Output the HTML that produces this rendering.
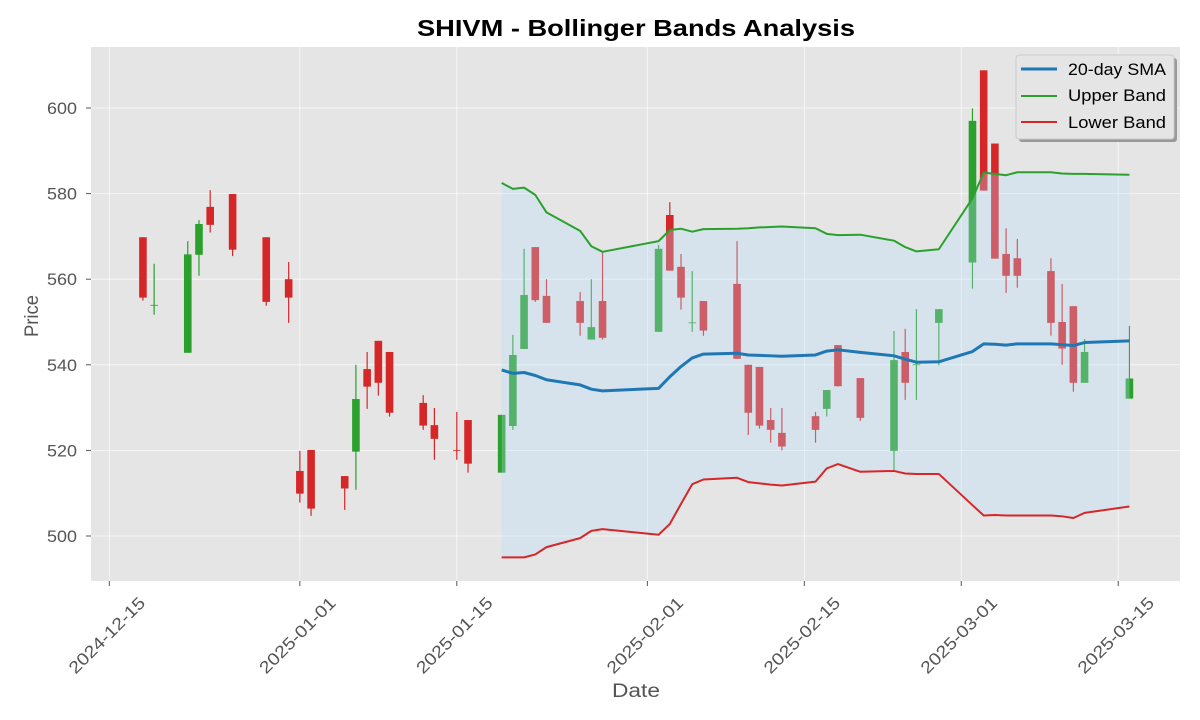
<!DOCTYPE html>
<html><head><meta charset="utf-8"><style>
body{margin:0;background:#fff;}
svg{display:block;font-family:"Liberation Sans","DejaVu Sans",sans-serif;}
</style></head><body>
<svg id="chart" width="1200" height="720" xmlns="http://www.w3.org/2000/svg">
<rect x="0" y="0" width="1200" height="720" fill="#fff"/>
<rect x="91" y="47" width="1089" height="534" fill="#e5e5e5"/>
<g id="grid"></g>
<g id="candles"></g>
<g id="bands"></g>
<g id="axes"></g>
<text x="636" y="36" text-anchor="middle" font-size="23" font-weight="bold" fill="#000" textLength="438" lengthAdjust="spacingAndGlyphs">SHIVM - Bollinger Bands Analysis</text>
<text x="0" y="0" transform="translate(38,316) rotate(-90)" text-anchor="middle" font-size="19" fill="#555" textLength="42" lengthAdjust="spacingAndGlyphs">Price</text>
<text x="636" y="697" text-anchor="middle" font-size="19" fill="#555" textLength="48" lengthAdjust="spacingAndGlyphs">Date</text>
<g>
<rect x="1019" y="58" width="158" height="84" rx="3" fill="#999"/>
<rect x="1016" y="55" width="158" height="84" rx="3" fill="#e5e5e5" stroke="#ccc" stroke-width="1"/>
<line x1="1021" y1="69" x2="1057" y2="69" stroke="#1f77b4" stroke-width="3"/>
<text x="1068" y="75" font-size="17" fill="#000" textLength="98" lengthAdjust="spacingAndGlyphs">20-day SMA</text>
<line x1="1021" y1="96" x2="1057" y2="96" stroke="#2ca02c" stroke-width="2"/>
<text x="1068" y="101" font-size="17" fill="#000" textLength="98" lengthAdjust="spacingAndGlyphs">Upper Band</text>
<line x1="1021" y1="122" x2="1057" y2="122" stroke="#d62728" stroke-width="2"/>
<text x="1068" y="128" font-size="17" fill="#000" textLength="98" lengthAdjust="spacingAndGlyphs">Lower Band</text>
</g>
</svg>
<script>
const dates=["2024-12-18","2024-12-19","2024-12-22","2024-12-23","2024-12-24","2024-12-26","2024-12-29","2024-12-31","2025-01-01","2025-01-02","2025-01-05","2025-01-06","2025-01-07","2025-01-08","2025-01-09","2025-01-12","2025-01-13","2025-01-15","2025-01-16","2025-01-19","2025-01-20","2025-01-21","2025-01-22","2025-01-23","2025-01-26","2025-01-27","2025-01-28","2025-02-02","2025-02-03","2025-02-04","2025-02-05","2025-02-06","2025-02-09","2025-02-10","2025-02-11","2025-02-12","2025-02-13","2025-02-16","2025-02-17","2025-02-18","2025-02-20","2025-02-23","2025-02-24","2025-02-25","2025-02-27","2025-03-02","2025-03-03","2025-03-04","2025-03-05","2025-03-06","2025-03-09","2025-03-10","2025-03-11","2025-03-12","2025-03-16"];
const opens=[569.8,553.9,542.8,565.7,576.9,579.9,569.8,560.0,515.2,520.1,514.0,519.7,539.0,545.6,543.0,531.1,525.9,520.1,527.1,514.8,525.7,543.7,567.5,556.1,554.9,545.9,554.9,547.7,575.0,562.9,549.8,554.9,558.9,540.0,539.5,527.1,524.1,528.0,529.7,544.6,536.9,519.9,543.0,540.0,549.8,563.9,608.8,591.7,565.9,564.9,561.9,550.0,553.7,535.8,532.1];
const highs=[569.8,563.6,568.9,573.8,580.8,579.9,569.8,564.0,519.9,520.1,514.0,540.0,543.0,545.6,543.0,532.9,529.9,529.0,527.1,528.3,547.0,567.1,567.5,560.0,557.0,560.0,566.2,568.0,578.0,565.9,561.9,554.9,568.9,540.0,539.5,529.9,529.9,529.0,534.1,544.6,536.9,547.9,548.4,553.0,553.0,599.9,608.8,591.7,571.9,569.4,564.9,558.9,553.7,546.0,549.1];
const lows=[555.0,551.7,542.8,560.8,570.9,565.4,553.8,549.8,507.8,504.7,506.1,510.8,529.7,532.8,527.9,524.8,517.8,517.8,514.8,514.8,524.8,543.7,554.7,549.8,546.8,545.9,545.9,547.7,562.0,552.9,547.7,546.8,541.4,523.6,525.1,521.8,520.0,521.8,527.9,534.9,526.9,515.3,531.8,531.8,539.9,557.8,580.7,564.8,556.8,558.0,546.8,540.0,533.7,535.8,532.1];
const closes=[555.7,554.0,565.8,572.9,572.7,566.9,554.7,555.7,509.9,506.4,511.1,532.0,534.9,535.8,528.8,525.8,522.7,520.0,516.9,528.3,542.3,556.3,555.1,549.8,549.8,548.8,546.3,567.1,562.0,555.7,549.9,548.0,541.4,528.8,525.8,524.8,520.9,524.8,534.1,535.0,527.6,541.1,535.8,540.1,553.0,597.0,580.7,564.8,560.8,560.8,549.8,543.8,535.8,543.0,536.8];
const bandDates=dates.slice(19);
const smaValues=[538.8,538.0,538.2,537.5,536.5,535.3,534.3,533.9,534.5,537.2,539.6,541.6,542.5,542.7,542.3,542.2,542.1,542.0,542.3,543.2,543.5,542.9,542.1,541.3,540.6,540.7,543.1,544.9,544.8,544.6,544.9,544.9,544.7,544.5,545.2,545.6];
const upperValues=[582.5,581.1,581.4,579.7,575.6,571.3,567.7,566.4,568.9,571.5,571.8,571.1,571.7,571.8,571.9,572.1,572.2,572.3,571.9,570.6,570.3,570.4,569.0,567.5,566.5,567.0,578.9,584.9,584.6,584.3,585.0,585.0,584.7,584.6,584.6,584.4];
const lowerValues=[495.0,495.0,495.0,495.7,497.4,499.5,501.2,501.6,500.3,502.8,507.5,512.1,513.2,513.6,512.6,512.3,512.0,511.8,512.7,515.8,516.8,515.0,515.2,514.6,514.5,514.5,507.2,504.8,504.9,504.8,504.8,504.8,504.6,504.2,505.4,506.9];
const yTicks=[500,520,540,560,580,600];
const xTickLabels=["2024-12-15","2025-01-01","2025-01-15","2025-02-01","2025-02-15","2025-03-01","2025-03-15"];

const NS="http://www.w3.org/2000/svg";
const T0=Date.UTC(2024,11,15);
function dayOf(s){const p=s.split("-");return (Date.UTC(+p[0],+p[1]-1,+p[2])-T0)/86400000;}
function xs(s){return 109.3+dayOf(s)*11.21;}
function ys(v){return 536-(v-500)*4.28;}
function mk(tag,attrs,parent){const e=document.createElementNS(NS,tag);for(const k in attrs)e.setAttribute(k,attrs[k]);parent.appendChild(e);return e;}
const grid=document.getElementById("grid"),axes=document.getElementById("axes"),cg=document.getElementById("candles"),bg=document.getElementById("bands");

yTicks.forEach(v=>{
  const y=ys(v);
  let l=mk("line",{x1:91,x2:1180,y1:y,y2:y,stroke:"#fff","stroke-width":0.8,opacity:0.8},grid);
  
  
  let t=mk("line",{x1:86,x2:91,y1:y,y2:y,stroke:"#555","stroke-width":1},axes);
  
  
  let tx=mk("text",{x:77,y:y+6,"text-anchor":"end","font-size":17,fill:"#555",textLength:30,lengthAdjust:"spacingAndGlyphs"},axes);
  tx.textContent=v;
  
  
});
xTickLabels.forEach(s=>{
  const x=xs(s);
  let l=mk("line",{x1:x,x2:x,y1:47,y2:581,stroke:"#fff","stroke-width":0.8,opacity:0.8},grid);
  
  
  let t=mk("line",{x1:x,x2:x,y1:581,y2:586,stroke:"#555","stroke-width":1},axes);
  
  
  let tx=mk("text",{x:0,y:0,"text-anchor":"end","font-size":17,fill:"#555",textLength:100,lengthAdjust:"spacingAndGlyphs",transform:`translate(${x+37},${604}) rotate(-45)`},axes);
  tx.textContent=s;
  
  
});

dates.forEach((d,i)=>{
  const x=xs(d),o=opens[i],c=closes[i];
  const col=c>=o?"#2ca02c":"#d62728";
  let w=mk("line",{x1:x,x2:x,y1:ys(highs[i]),y2:ys(lows[i]),stroke:col,"stroke-width":1.2},cg);
  
  
  const top=ys(Math.max(o,c)),bot=ys(Math.min(o,c));
  let b=mk("rect",{x:x-3.8,y:top,width:7.6,height:Math.max(bot-top,0.8),fill:col},cg);
  
  
});

let area="M"+bandDates.map((d,i)=>xs(d)+","+ys(upperValues[i])).join(" L");
for(let i=bandDates.length-1;i>=0;i--)area+=" L"+xs(bandDates[i])+","+ys(lowerValues[i]);
area+="Z";
let fa=mk("path",{d:area,fill:"rgb(179,222,252)","fill-opacity":0.3},bg);


function line(vals,col,w,name){
  const p=mk("polyline",{points:bandDates.map((d,i)=>xs(d)+","+ys(vals[i])).join(" "),fill:"none",stroke:col,"stroke-width":w,"stroke-linejoin":"round"},bg);
  
  
}
line(upperValues,"#2ca02c",2,"upper-band-line");
line(lowerValues,"#d62728",2,"lower-band-line");
line(smaValues,"#1f77b4",3,"sma-line");
</script>
</body></html>
